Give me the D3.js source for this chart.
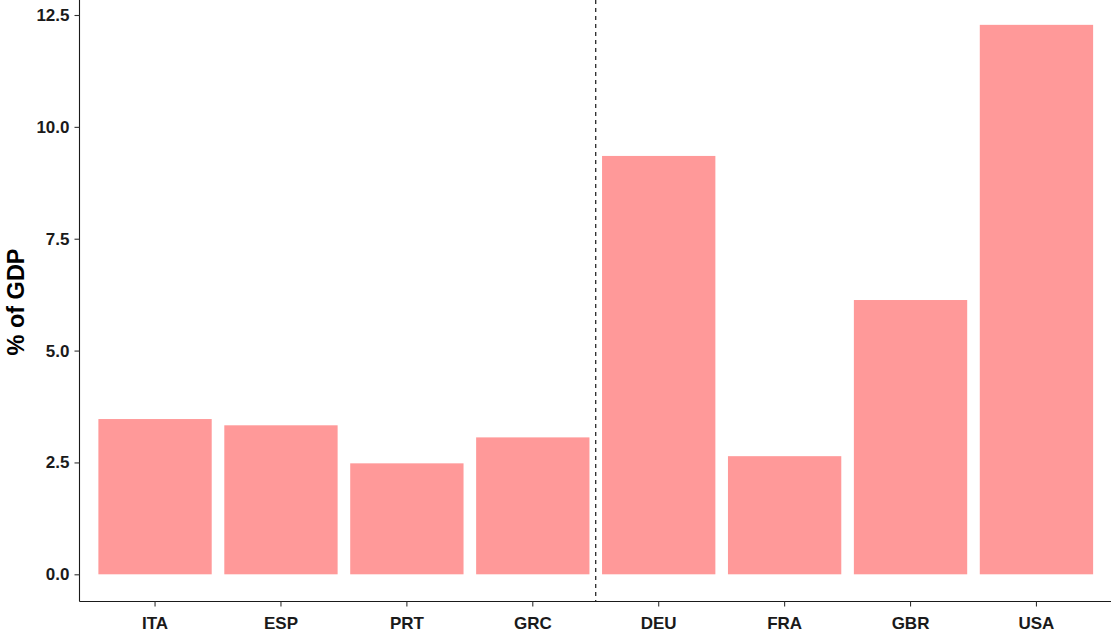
<!DOCTYPE html>
<html>
<head>
<meta charset="utf-8">
<script src="https://cdn.jsdelivr.net/npm/d3@7"></script>
<style>
  body { margin: 0; background: #fff; }
  .axis text { font-family: "Liberation Sans", Arial, sans-serif; font-weight: bold; font-size: 17px; fill: #1a1a1a; }
  .axis path { stroke: #1a1a1a; stroke-width: 1.1; }
  .axis line { stroke: #333; stroke-width: 1.1; }
</style>
</head>
<body>
<div id="chart"></div>
<script>
var countries = ["ITA", "ESP", "PRT", "GRC", "DEU", "FRA", "GBR", "USA"];
var values = [3.47, 3.33, 2.48, 3.06, 9.35, 2.64, 6.13, 12.28];
var yTicks = [0, 2.5, 5, 7.5, 10, 12.5];
var splitAfter = "GRC";

var W = 1111, H = 633;
var x0 = 79.5, x1 = 1112, yBottom = 601.5;

var svg = d3.select("#chart").append("svg")
    .attr("width", W)
    .attr("height", H);

var xScale = d3.scaleBand()
  .domain(countries)
  .range([x0, x1])
  .paddingInner(0.1)
  .paddingOuter(0.15);

var yScale = d3.scaleLinear()
  .domain([0, 12.5])
  .range([574.3, 15]);

// bars
svg.selectAll("rect.bar")
  .data(countries)
  .enter().append("rect")
    .attr("class", "bar")
    .attr("x", function(d) { return xScale(d); })
    .attr("width", xScale.bandwidth())
    .attr("y", function(d, i) { return yScale(values[i]); })
    .attr("height", function(d, i) { return yScale(0) - yScale(values[i]); })
    .style("fill", "#FF9999");

// dashed separator between the two groups
var step = xScale.step();
var splitX = xScale(splitAfter) + xScale.bandwidth() + (step - xScale.bandwidth()) / 2;
svg.append("line")
  .attr("x1", splitX).attr("x2", splitX)
  .attr("y1", 0).attr("y2", yBottom)
  .style("stroke", "#000")
  .style("stroke-width", 1.1)
  .style("stroke-dasharray", "4,4");

// axes
svg.append("g")
  .attr("class", "x axis")
  .attr("transform", "translate(0," + yBottom + ")")
  .call(d3.axisBottom(xScale).tickSizeInner(5).tickSizeOuter(0).tickPadding(10))
  .call(function(g) { g.select(".domain").attr("d", "M" + x0 + ",0H" + W); });

svg.append("g")
  .attr("class", "y axis")
  .attr("transform", "translate(" + x0 + ",0)")
  .call(d3.axisLeft(yScale).tickValues(yTicks).tickFormat(d3.format(".1f")).tickSizeInner(5).tickSizeOuter(0).tickPadding(5))
  .call(function(g) { g.select(".domain").attr("d", "M0,0V" + yBottom); });

svg.append("text")
  .attr("transform", "translate(24,302) rotate(-90)")
  .attr("text-anchor", "middle")
  .style("font-family", "Liberation Sans, Arial, sans-serif")
  .style("font-weight", "bold")
  .style("font-size", "23.5px")
  .style("fill", "#000")
  .text("% of GDP");
</script>
</body>
</html>
